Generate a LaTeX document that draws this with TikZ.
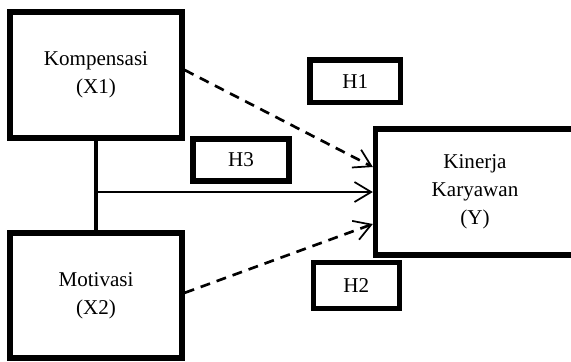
\documentclass[tikz,border=0pt]{standalone}
\usepackage{fontspec}
\setmainfont{Liberation Serif}
\usetikzlibrary{arrows.meta}

\tikzset{
	varbox/.style = {draw, line width = 4pt, align = center, font = \fontsize{15.8}{21}\selectfont},
	hypbox/.style = {draw, line width = 4pt, font = \fontsize{15.8}{21}\selectfont},
	barb/.style = {-{Straight Barb[length = 12.5pt, width = 15pt, line width = 1.3pt]}},
	effect/.style = {barb, line width = 2pt, dash pattern = on 7.5pt off 5.25pt}
}

\begin{document}
\begin{tikzpicture}[x = 0.75pt, y = -0.75pt]
						\useasboundingbox (0, 0) rectangle (571, 361);
						\node[varbox, minimum width = 129pt, minimum height = 94.5pt] (X1) at (96, 75) {Kompensasi\\(X1)};
						\node[varbox, minimum width = 129pt, minimum height = 93.75pt] (X2) at (96, 295.5) {Motivasi\\(X2)};
						\node[varbox, minimum width = 149.25pt, minimum height = 94.5pt] (Y) at (475, 192) {Kinerja\\Karyawan\\(Y)};
							\node[hypbox, minimum width = 68pt, minimum height = 32pt] (H1) at (355.3, 81.3) {H1};
							\node[hypbox, minimum width = 71.8pt, minimum height = 31.3pt] (H3) at (241, 160) {H3};
							\node[hypbox, minimum width = 64.5pt, minimum height = 34.5pt] (H2) at (356.3, 285.7) {H2};
						\draw[line width = 3pt] (X1.south) -- (X2.north);
						\draw[barb, line width = 1.1pt] (X1.south |- Y.west) -- (Y.west);
						\draw[effect] ([yshift = 3.75pt] X1.east) -- ([yshift = 18.75pt] Y.west);
						\draw[effect] ([yshift = 2pt] X2.east) -- ([yshift = -24pt] Y.west);
					\end{tikzpicture}
\end{document}
